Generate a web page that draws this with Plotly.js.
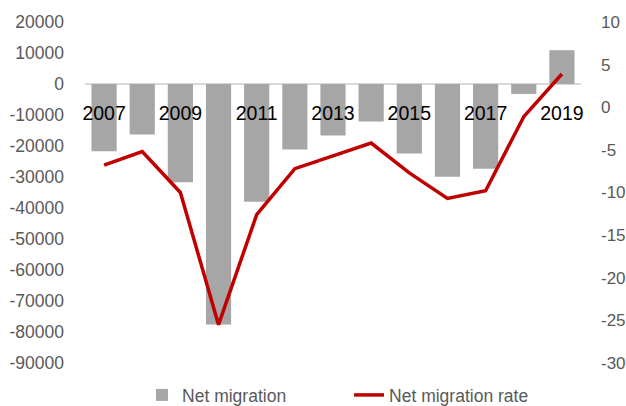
<!DOCTYPE html>
<html>
<head>
<meta charset="utf-8">
<script src="https://cdn.plot.ly/plotly-3.0.1.min.js"></script>
<style>html,body{margin:0;padding:0;background:#fff;}#chart{width:626px;height:406px;}</style>
</head>
<body>
<div id="chart"></div>
<script>
const years = [2007, 2008, 2009, 2010, 2011, 2012, 2013, 2014, 2015, 2016, 2017, 2018, 2019];
const netMigration = [-21700, -16300, -31700, -77600, -38000, -21100, -16600, -12100, -22400, -29900, -27300, -3200, 10900];
const netMigrationRate = [-6.8, -5.2, -10.0, -25.5, -12.6, -7.2, -5.7, -4.2, -7.7, -10.7, -9.8, -1.1, 3.9];
const yearTicks = [2007, 2009, 2011, 2013, 2015, 2017, 2019];
const leftTicks = [20000, 10000, 0, -10000, -20000, -30000, -40000, -50000, -60000, -70000, -80000, -90000];
const rightTicks = [10, 5, 0, -5, -10, -15, -20, -25, -30];

const FONT = 'Arial, "Liberation Sans", sans-serif';
const GREY = '#595959';

const data = [
  {
    type: 'bar', name: 'Net migration', x: years, y: netMigration,
    marker: {color: '#a6a6a6'}, width: 0.66, yaxis: 'y'
  },
  {
    type: 'scatter', mode: 'lines', name: 'Net migration rate', x: years, y: netMigrationRate,
    line: {color: '#c00000', width: 3.5}, yaxis: 'y2'
  }
];

const layout = {
  width: 626, height: 406,
  margin: {l: 85, r: 45, t: 22, b: 43, autoexpand: false},
  paper_bgcolor: '#ffffff', plot_bgcolor: '#ffffff',
  showlegend: true,
  font: {family: FONT, color: GREY, size: 17.5},
  xaxis: {
    range: [2006.5, 2019.5],
    tickmode: 'array', tickvals: yearTicks, ticktext: yearTicks.map(String),
    tickfont: {family: FONT, size: 19.5, color: '#000000'},
    anchor: 'free', position: 90 / 110,
    showgrid: false, zeroline: false, showline: false, ticks: '',
    ticklabelstandoff: 15
  },
  yaxis: {
    range: [-90000, 20000],
    tickmode: 'array', tickvals: leftTicks, ticktext: leftTicks.map(String),
    tickfont: {family: FONT, size: 17.5, color: GREY},
    showgrid: false, zeroline: true, zerolinecolor: '#d9d9d9', zerolinewidth: 2,
    showline: false, ticks: '', ticklabelstandoff: 20
  },
  yaxis2: {
    range: [-30, 10], overlaying: 'y', side: 'right',
    tickmode: 'array', tickvals: rightTicks, ticktext: rightTicks.map(String),
    tickfont: {family: FONT, size: 17, color: GREY},
    showgrid: false, zeroline: false, showline: false, ticks: '', ticklabelstandoff: 19
  },
  legend: {
    orientation: 'h', x: 0.115, xanchor: 'left', y: -0.094, yanchor: 'middle',
    font: {family: FONT, size: 17.5, color: GREY},
    entrywidth: 162, entrywidthmode: 'pixels',
    bgcolor: 'rgba(0,0,0,0)'
  }
};

Plotly.newPlot('chart', data, layout, {displayModeBar: false, staticPlot: true});
</script>
</body>
</html>
